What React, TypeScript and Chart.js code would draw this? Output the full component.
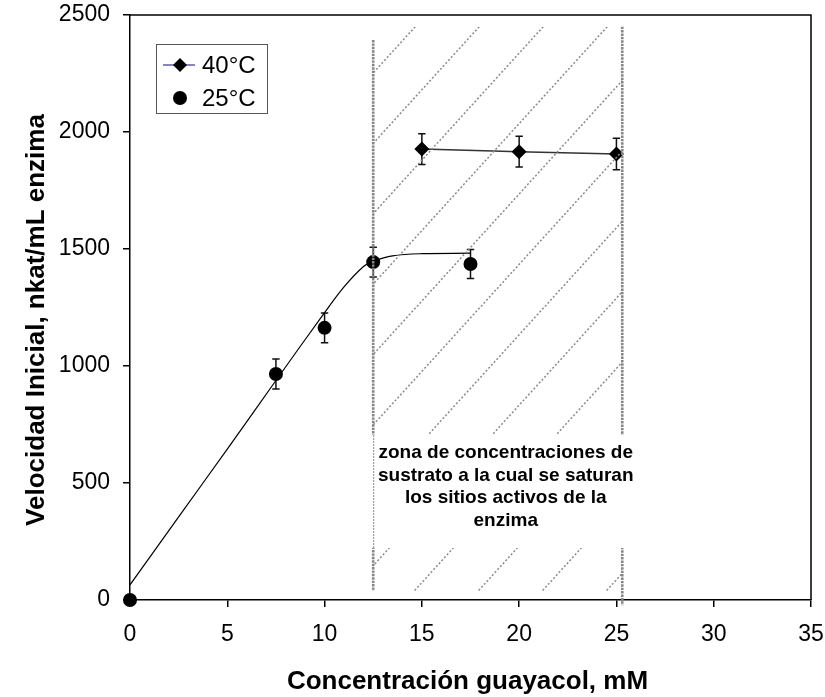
import React, { useEffect, useRef } from "react";
import { Chart, registerables } from "chart.js";
Chart.register(...registerables);

// ---- data ----
const xTicks = [0, 5, 10, 15, 20, 25, 30, 35];
const yTicks = [0, 500, 1000, 1500, 2000, 2500];

const conc40 = [15, 20, 25];
const vel40 = [1927, 1916, 1906];
const err40 = [66, 66, 67];

const conc25 = [0, 7.5, 10, 12.5, 17.5];
const vel25 = [0, 966, 1163, 1444, 1436];
const err25 = [0, 64, 64, 64, 62];

const fitConc25 = [0, 2.5, 5, 7.5, 10, 11, 12, 12.5, 13.5, 15, 17.5];
const fitVel25 = [65, 355, 645, 938, 1228, 1338, 1425, 1448, 1471, 1480, 1482];

const legendLabels = ["40°C", "25°C"];
const xTitle = "Concentración guayacol, mM";
const yTitle = "Velocidad Inicial, nkat/mL enzima";
const zoneText = [
  "zona de concentraciones de",
  "sustrato a la cual se saturan",
  "los sitios activos de la",
  "enzima",
];
const zoneStart = 12.5;
const zoneEnd = 25.3;

const FONT = "'Liberation Sans', Arial, sans-serif";

const errorBarPlugin = {
  id: "errorBars",
  beforeDatasetsDraw(chart: any) {
    const { ctx, scales } = chart;
    const xs = scales.x, ys = scales.y;
    const draw = (xsArr: number[], vArr: number[], eArr: number[]) => {
      ctx.save();
      ctx.strokeStyle = "#111";
      ctx.lineWidth = 1.5;
      xsArr.forEach((xv, i) => {
        if (!eArr[i]) return;
        const px = xs.getPixelForValue(xv);
        const t = ys.getPixelForValue(vArr[i] + eArr[i]);
        const b = ys.getPixelForValue(vArr[i] - eArr[i]);
        ctx.beginPath();
        ctx.moveTo(px, t); ctx.lineTo(px, b);
        ctx.moveTo(px - 3.7, t); ctx.lineTo(px + 3.7, t);
        ctx.moveTo(px - 3.7, b); ctx.lineTo(px + 3.7, b);
        ctx.stroke();
      });
      ctx.restore();
    };
    draw(conc40, vel40, err40);
    draw(conc25, vel25, err25);
  },
};

const overlayPlugin = {
  id: "overlay",
  afterDatasetsDraw(chart: any) {
    const { ctx, scales, chartArea } = chart;
    const xs = scales.x, ys = scales.y;
    const xL = xs.getPixelForValue(zoneStart);
    const xR = xs.getPixelForValue(zoneEnd);
    const yT = ys.getPixelForValue(2450);
    const yB = ys.getPixelForValue(38);

    // diagonal hatch
    ctx.save();
    ctx.beginPath();
    ctx.rect(xL, yT, xR - xL, yB - yT);
    ctx.clip();
    ctx.strokeStyle = "#8a8a8a";
    ctx.lineWidth = 1.5;
    ctx.setLineDash([2, 2]);
    const slope = 1.1;
    const spacing = 64;
    for (let k = -12; k <= 12; k++) {
      const xTop = xL + 42 + k * spacing;
      ctx.beginPath();
      ctx.moveTo(xTop, yT);
      ctx.lineTo(xTop - (yB - yT) / slope, yB);
      ctx.stroke();
    }
    ctx.restore();

    // vertical boundary lines
    ctx.save();
    ctx.strokeStyle = "#858585";
    ctx.lineWidth = 2.6;
    ctx.setLineDash([2.4, 1]);
    ctx.beginPath();
    ctx.moveTo(xL, ys.getPixelForValue(2393));
    ctx.lineTo(xL, yB);
    ctx.moveTo(xR, yT);
    ctx.lineTo(xR, ys.getPixelForValue(-22));
    ctx.stroke();
    ctx.restore();

    // text box
    const bT = ys.getPixelForValue(705);
    const bB = ys.getPixelForValue(222);
    ctx.save();
    ctx.fillStyle = "#fff";
    ctx.fillRect(xL - 2, bT, xR - xL + 4, bB - bT);
    ctx.strokeStyle = "#8a8a8a";
    ctx.lineWidth = 1;
    ctx.setLineDash([2, 1]);
    ctx.beginPath();
    ctx.moveTo(xL + 0.5, bT);
    ctx.lineTo(xL + 0.5, bB);
    ctx.stroke();
    ctx.setLineDash([]);
    ctx.fillStyle = "#000";
    ctx.font = `bold 19px ${FONT}`;
    ctx.textAlign = "center";
    ctx.textBaseline = "alphabetic";
    const cx = (xL + xR) / 2 + 8;
    zoneText.forEach((t, i) => ctx.fillText(t, cx, bT + 23 + i * 22.7));
    ctx.restore();

    // frame top / right
    ctx.save();
    ctx.strokeStyle = "#000";
    ctx.lineWidth = 1.5;
    ctx.beginPath();
    ctx.moveTo(chartArea.left, chartArea.top);
    ctx.lineTo(chartArea.right, chartArea.top);
    ctx.lineTo(chartArea.right, chartArea.bottom);
    ctx.stroke();
    ctx.restore();

    // legend
    const lx = chartArea.left + 26;
    const ly = chartArea.top + 29;
    ctx.save();
    ctx.fillStyle = "#fff";
    ctx.fillRect(lx, ly, 111, 69);
    ctx.strokeStyle = "#555";
    ctx.lineWidth = 1;
    ctx.strokeRect(lx + 0.5, ly + 0.5, 111, 69);
    const r1 = ly + 21, r2 = ly + 54;
    const mx = lx + 24;
    ctx.strokeStyle = "#33338a";
    ctx.lineWidth = 1.2;
    ctx.beginPath();
    ctx.moveTo(lx + 7, r1);
    ctx.lineTo(lx + 39, r1);
    ctx.stroke();
    ctx.fillStyle = "#000";
    ctx.beginPath();
    ctx.moveTo(mx, r1 - 7); ctx.lineTo(mx + 7, r1); ctx.lineTo(mx, r1 + 7); ctx.lineTo(mx - 7, r1);
    ctx.closePath();
    ctx.fill();
    ctx.beginPath();
    ctx.arc(mx, r2, 7, 0, Math.PI * 2);
    ctx.fill();
    ctx.font = `24px ${FONT}`;
    ctx.textAlign = "left";
    ctx.textBaseline = "middle";
    ctx.fillText(legendLabels[0], lx + 46, r1 + 1);
    ctx.fillText(legendLabels[1], lx + 46, r2 + 1);
    ctx.restore();
  },
  afterDraw(chart: any) {
    const { ctx, chartArea } = chart;
    ctx.save();
    ctx.fillStyle = "#000";
    ctx.font = `bold 26px ${FONT}`;
    ctx.textAlign = "center";
    ctx.textBaseline = "alphabetic";
    ctx.fillText(xTitle, (chartArea.left + chartArea.right) / 2 - 3, 689);
    ctx.translate(44, 320);
    ctx.rotate(-Math.PI / 2);
    ctx.fillText(yTitle, 0, 0);
    ctx.restore();
  },
};

export default function App() {
  const ref = useRef<HTMLCanvasElement | null>(null);
  useEffect(() => {
    if (!ref.current) return;
    const axisCommon = {
      grid: { drawOnChartArea: false, drawTicks: true, tickLength: 7, color: "#000", lineWidth: 1.5 },
      border: { display: true, color: "#000", width: 1.5 },
    };
    const chart = new Chart(ref.current, {
      type: "scatter",
      data: {
        datasets: [
          {
            label: legendLabels[0],
            data: conc40.map((x, i) => ({ x, y: vel40[i] })),
            showLine: true,
            borderColor: "#333",
            borderWidth: 1.5,
            pointStyle: "rectRot",
            pointRadius: 7.5,
            pointBackgroundColor: "#000",
            pointBorderColor: "#000",
            pointBorderWidth: 0,
            clip: false,
          },
          {
            label: legendLabels[1],
            data: conc25.map((x, i) => ({ x, y: vel25[i] })),
            showLine: false,
            pointStyle: "circle",
            pointRadius: 7,
            pointBackgroundColor: "#000",
            pointBorderColor: "#000",
            pointBorderWidth: 0,
            clip: false,
          },
          {
            label: "fit",
            data: fitConc25.map((x, i) => ({ x, y: fitVel25[i] })),
            showLine: true,
            borderColor: "#000",
            borderWidth: 1.2,
            pointRadius: 0,
            tension: 0.35,
          },
        ],
      },
      options: {
        responsive: false,
        devicePixelRatio: 1,
        animation: false,
        events: [],
        layout: { padding: { top: 15, right: 14, left: 0, bottom: 0 } },
        plugins: { legend: { display: false }, tooltip: { enabled: false } },
        scales: {
          x: {
            type: "linear",
            min: 0,
            max: 35,
            ...axisCommon,
            afterBuildTicks: (s: any) => { s.ticks = xTicks.map((v) => ({ value: v })); },
            afterFit: (s: any) => { s.height = 97; s.paddingLeft = 0; s.paddingRight = 0; },
            ticks: { color: "#000", font: { family: FONT, size: 23 }, padding: 14, callback: (v: any) => String(v) },
          },
          y: {
            type: "linear",
            min: 0,
            max: 2500,
            ...axisCommon,
            afterBuildTicks: (s: any) => { s.ticks = yTicks.map((v) => ({ value: v })); },
            afterFit: (s: any) => { s.width = 130; s.paddingTop = 0; s.paddingBottom = 0; },
            ticks: { color: "#000", font: { family: FONT, size: 23 }, padding: 13, callback: (v: any) => String(v) },
          },
        },
      } as any,
      plugins: [errorBarPlugin, overlayPlugin],
    });
    return () => chart.destroy();
  }, []);
  return (
    <div style={{ position: "fixed", left: 0, top: 0, width: 825, height: 697, background: "#fff" }}>
      <canvas ref={ref} width={825} height={697} style={{ display: "block" }} />
    </div>
  );
}
